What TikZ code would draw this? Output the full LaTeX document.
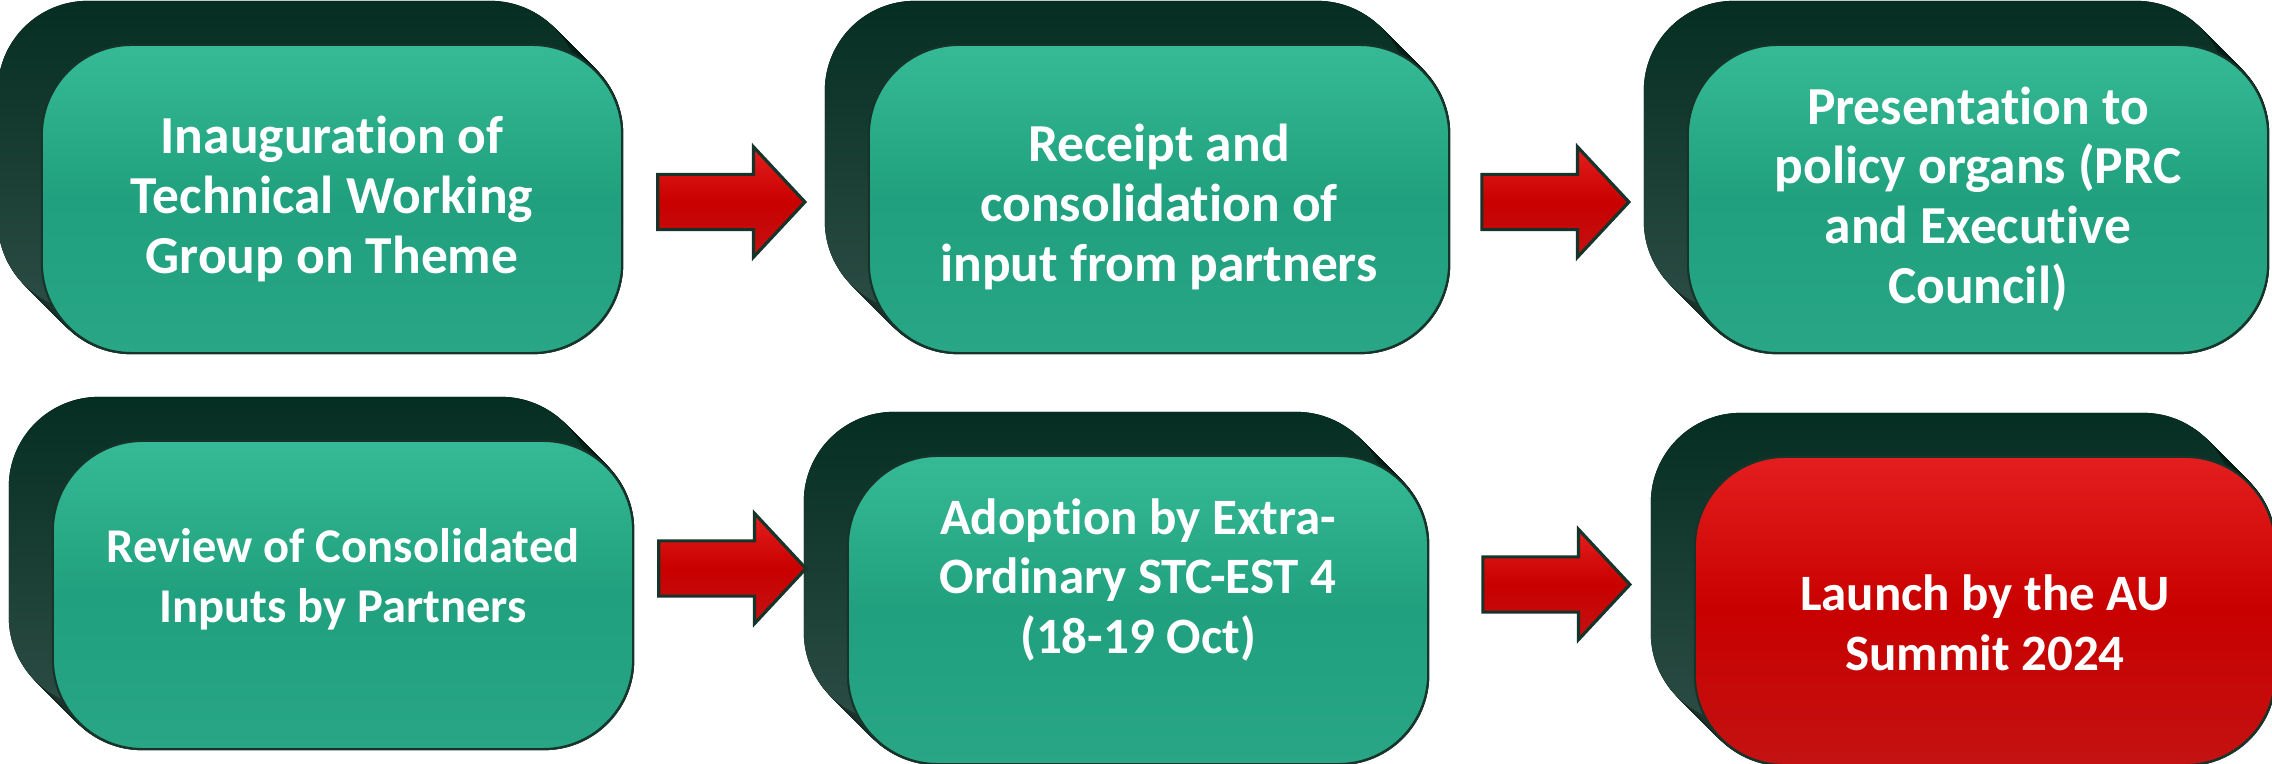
\documentclass[tikz,border=0pt]{standalone}
\usepackage{fontspec}
\setmainfont{Carlito}[Ligatures=NoCommon]
\usetikzlibrary{calc,shapes.arrows,backgrounds}

\definecolor{tealmid}{RGB}{32,160,126}
\definecolor{tealtop}{RGB}{54,186,150}
\definecolor{tealbot}{RGB}{40,166,134}
\definecolor{redmid}{RGB}{200,0,0}
\definecolor{redtop}{RGB}{228,30,30}
\definecolor{redbot}{RGB}{196,18,18}
\definecolor{depthtop}{RGB}{5,46,34}
\definecolor{depthbot}{RGB}{44,76,68}
\definecolor{rimline}{RGB}{22,52,42}

\tikzset{
	card/.style={rectangle, rounded corners=0.9cm, minimum width=5.8cm, minimum height=3.08cm,
		draw=rimline, line width=0.6pt, text=white, align=center,
		font=\bfseries\fontsize{15.2}{17}\selectfont,
		top color=tealtop, bottom color=tealbot, middle color=tealmid},
	redcard/.style={card, top color=redtop, bottom color=redbot, middle color=redmid},
	smalltext/.style={font=\bfseries\fontsize{14.5}{17}\selectfont},
	flow/.style={single arrow, single arrow head extend=0.275cm, single arrow tip angle=94,
		minimum height=1.47cm, inner xsep=0pt, inner ysep=0.26cm,
		draw=rimline, line width=0.9pt,
		top color=redtop, bottom color=redbot, middle color=redmid}
}
% extruded dark back of a card
\def\depth(#1){\begin{scope}[on background layer]
	\foreach \k in {0,...,43}
		\fill[rounded corners=0.9cm, top color=depthtop, bottom color=depthbot]
			($(#1.south west)+(-\k,-\k)$) rectangle ($(#1.north east)+(-\k,-\k)$);
	\end{scope}}
% text block moved up by #1 inside its card
\def\lift#1#2{\raisebox{0pt}[\dimexpr\height-#1\relax][\dimexpr\depth+#1\relax]{\begin{tabular}{@{}c@{}}#2\end{tabular}}}

\begin{document}
\begin{tikzpicture}[x=0.01cm, y=-0.01cm]
		%%%%% START %%%%%
		
		\useasboundingbox (0,0) rectangle (2272,764);
		
		% top row
		\node[card] (inaug) at (332,199) {Inauguration of\\Technical Working\\Group on Theme};
		\node[card] (receipt) at (1159,199) {\lift{-3pt}{Receipt and\\consolidation of\\input from partners}};
		\node[card] (present) at (1978,199) {Presentation to\\policy organs (PRC\\and Executive\\Council)};
		
		% bottom row
		\node[card, font=\bfseries\fontsize{13.8}{17}\selectfont] (review) at (343,595) {\lift{4pt}{Review of Consolidated\\Inputs by Partners}};
		\node[card, smalltext] (adopt) at (1138,610) {\lift{8pt}{Adoption by Extra-\\Ordinary STC-EST 4\\(18-19 Oct)}};
		\node[redcard, smalltext] (launch) at (1985,611) {\lift{-5pt}{Launch by the AU\\Summit 2024}};
		
		\begin{scope}[on background layer]
			\fill[white] (0,0) rectangle (2272,764);
		\end{scope}
		\depth(inaug)
		\depth(receipt)
		\depth(present)
		\depth(review)
		\depth(adopt)
		\depth(launch)
		
		% arrows
		\node[flow] (go1) at ($(inaug.east)!0.5!(receipt.west)+(-27,3)$) {};
		\node[flow] (go2) at ($(receipt.east)!0.5!(present.west)+(-26,3)$) {};
		\node[flow] (go3) at ($(review.east)!0.5!(adopt.west)+(-21,-34)$) {};
		\node[flow] (go4) at ($(adopt.east)!0.5!(launch.west)+(-18,-26)$) {};
		
		%%%%% END %%%%%
	\end{tikzpicture}
\end{document}
